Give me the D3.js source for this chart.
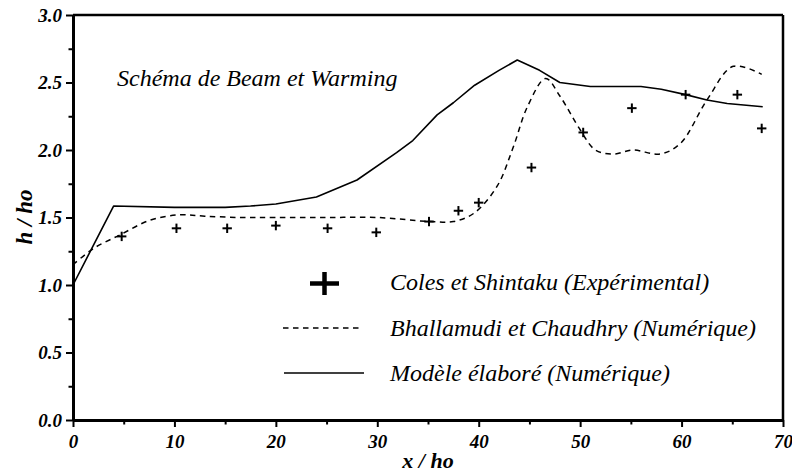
<!DOCTYPE html>
<html><head><meta charset="utf-8">
<script src="https://cdn.jsdelivr.net/npm/d3@7"></script>
<style>
body{margin:0;background:#fff;}
svg{display:block;}
</style></head>
<body>
<svg id="c" width="792" height="473"></svg>
<script>
// Data
const modelX = [0, 4, 10, 15, 17.5, 20, 24, 28, 31.9, 33.5, 35.9, 37.5, 39.6, 42, 43.8, 46, 48, 51, 56, 58, 60.4, 62.5, 64.5, 68];
const modelY = [1.0, 1.585, 1.575, 1.575, 1.585, 1.60, 1.652, 1.778, 1.98, 2.07, 2.26, 2.35, 2.48, 2.59, 2.667, 2.59, 2.50, 2.47, 2.47, 2.45, 2.41, 2.37, 2.345, 2.32];
const bhalX = [0, 2, 4.6, 7.6, 10.5, 13, 16.5, 20, 25, 30, 35.2, 37.5, 39.5, 41.8, 43.4, 44.8, 46.6, 48, 50, 51.5, 53.3, 55.2, 57.9, 59.9, 62.5, 65.1, 67.9];
const bhalY = [1.15, 1.27, 1.37, 1.48, 1.52, 1.51, 1.50, 1.50, 1.50, 1.50, 1.47, 1.47, 1.53, 1.73, 2.02, 2.32, 2.53, 2.40, 2.15, 2.0, 1.97, 2.0, 1.97, 2.05, 2.37, 2.62, 2.56];
const expX = [4.8, 10.2, 15.2, 20, 25.1, 29.9, 35.1, 38, 40, 45.2, 50.3, 55.1, 60.4, 65.5, 67.9];
const expY = [1.36, 1.42, 1.42, 1.44, 1.42, 1.39, 1.47, 1.55, 1.61, 1.87, 2.13, 2.31, 2.41, 2.41, 2.16];
const xTicks = [0, 10, 20, 30, 40, 50, 60, 70];
const yTicks = [0.0, 0.5, 1.0, 1.5, 2.0, 2.5, 3.0];
const legendLabels = ["Coles et Shintaku (Expérimental)", "Bhallamudi et Chaudhry (Numérique)", "Modèle élaboré (Numérique)"];
const annotation = "Schéma de Beam et Warming";

const SERIF = "Liberation Serif";
const boldIt = (sel, size) => sel.attr("font-family", SERIF).style("font-family", SERIF)
  .style("font-weight", "bold").style("font-style", "italic").style("font-size", size + "px").attr("fill", "#000");
const it = (sel, size) => sel.attr("font-family", SERIF).style("font-family", SERIF)
  .style("font-style", "italic").style("font-size", size + "px").attr("fill", "#000");

const svg = d3.select("#c");
const L = 73, R = 783, T = 15, B = 420;
const x = d3.scaleLinear().domain([0, 70]).range([L, R]);
const y = d3.scaleLinear().domain([0, 3]).range([B, T]);

// frame top/right
svg.append("line").attr("x1", L).attr("x2", R).attr("y1", T).attr("y2", T).attr("stroke", "#000").attr("stroke-width", 2.5);
svg.append("line").attr("x1", R).attr("x2", R).attr("y1", T).attr("y2", B).attr("stroke", "#000").attr("stroke-width", 2.5);

// minor ticks
const xMinor = d3.range(5, 70, 10);
const yMinor = d3.range(0.25, 3, 0.5);
svg.append("g").attr("transform", `translate(0,${B})`)
  .call(d3.axisBottom(x).tickValues(xMinor).tickSize(4.5).tickFormat(""))
  .call(g => g.select(".domain").remove())
  .selectAll("line").attr("stroke-width", 2);
svg.append("g").attr("transform", `translate(${L},0)`)
  .call(d3.axisLeft(y).tickValues(yMinor).tickSize(4.5).tickFormat(""))
  .call(g => g.select(".domain").remove())
  .selectAll("line").attr("stroke-width", 2);

// major axes
const gx = svg.append("g").attr("transform", `translate(0,${B})`)
  .call(d3.axisBottom(x).tickValues(xTicks).tickSize(7).tickSizeOuter(0).tickPadding(8).tickFormat(d3.format("d")));
gx.attr("font-family", SERIF);
gx.select(".domain").attr("stroke-width", 3);
gx.selectAll(".tick line").attr("stroke-width", 2);
gx.selectAll("text").call(boldIt, 19).attr("y", 28).attr("dy", null);

const gy = svg.append("g").attr("transform", `translate(${L},0)`)
  .call(d3.axisLeft(y).tickValues(yTicks).tickSize(7).tickSizeOuter(0).tickPadding(4).tickFormat(d3.format(".1f")));
gy.attr("font-family", SERIF);
gy.select(".domain").attr("stroke-width", 3);
gy.selectAll(".tick line").attr("stroke-width", 2);
gy.selectAll("text").call(boldIt, 19).attr("x", -11);

// axis titles
svg.append("text").attr("x", (L + R) / 2).attr("y", 468).attr("text-anchor", "middle").text("x / ho").call(boldIt, 22);
svg.append("text").attr("transform", "translate(32,217) rotate(-90)").attr("text-anchor", "middle").text("h / ho").call(boldIt, 23);

// lines
const lineSolid = d3.line().x(d => x(d[0])).y(d => y(d[1]));
svg.append("path").datum(d3.zip(modelX, modelY)).attr("d", lineSolid)
  .attr("fill", "none").attr("stroke", "#000").attr("stroke-width", 1.6).attr("stroke-linejoin", "round");
const lineDash = d3.line().x(d => x(d[0])).y(d => y(d[1])).curve(d3.curveCatmullRom.alpha(0.5));
svg.append("path").datum(d3.zip(bhalX, bhalY)).attr("d", lineDash)
  .attr("fill", "none").attr("stroke", "#000").attr("stroke-width", 1.5).attr("stroke-dasharray", "5.5,4.5");

// crosses
const cross = (g, cx, cy, sx, sy, w) => {
  g.append("line").attr("x1", cx - sx).attr("x2", cx + sx).attr("y1", cy).attr("y2", cy).attr("stroke", "#000").attr("stroke-width", w);
  g.append("line").attr("x1", cx).attr("x2", cx).attr("y1", cy - sy).attr("y2", cy + sy).attr("stroke", "#000").attr("stroke-width", w);
};
const gc = svg.append("g");
d3.zip(expX, expY).forEach(d => cross(gc, x(d[0]), y(d[1]), 4.7, 4.7, 2));

// annotation
svg.append("text").attr("x", 117).attr("y", 86).text(annotation).call(it, 24);

// legend
const lg = svg.append("g");
cross(lg, 324.5, 283.5, 14.5, 11.5, 4.5);
lg.append("line").attr("x1", 283).attr("x2", 362).attr("y1", 328).attr("y2", 328).attr("stroke", "#000").attr("stroke-width", 1.5).attr("stroke-dasharray", "5.5,4.5");
lg.append("line").attr("x1", 284).attr("x2", 364).attr("y1", 373).attr("y2", 373).attr("stroke", "#000").attr("stroke-width", 1.6);
[290, 335.5, 381].forEach((by, i) => {
  lg.append("text").attr("x", 390).attr("y", by).text(legendLabels[i]).call(it, 24);
});
</script>
</body></html>
